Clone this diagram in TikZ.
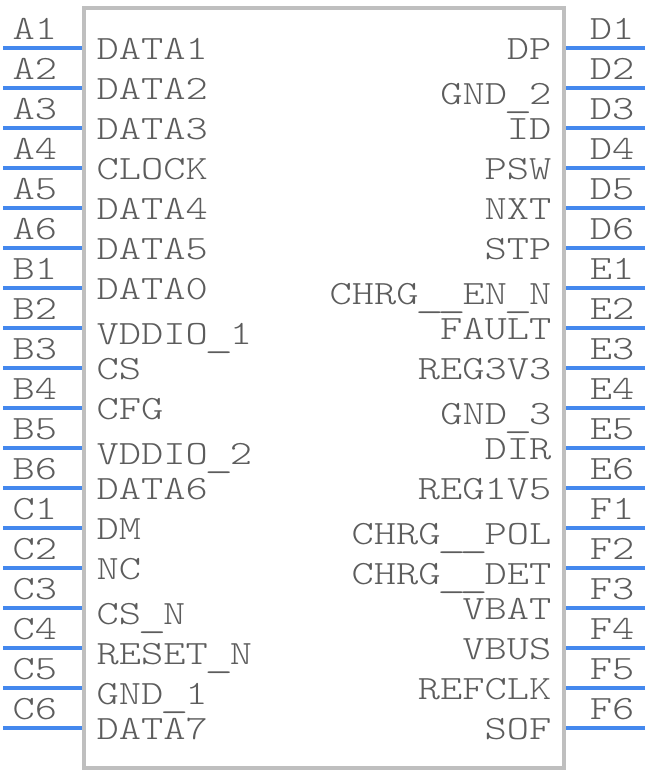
\documentclass[tikz,border=0pt]{standalone}
\usepackage{fontspec}
\setmonofont[FakeStretch=1.245]{Latin Modern Mono Light}
\usepackage{tikz}
\usetikzlibrary{positioning}
\definecolor{leadblue}{HTML}{4488EE}
\definecolor{bodygray}{HTML}{BFBFBF}
\definecolor{textgray}{HTML}{5C5C5C}
\newcommand{\pinfont}{\ttfamily\fontsize{24.2}{24.2}\selectfont}
\newcommand{\usc}{\raisebox{-0.07cm}{\makebox[0.55cm][c]{\scalebox{1.3}[1]{\_}}}}
\tikzset{body/.style={draw=bodygray,line width=0.1cm,minimum width=11.99cm,minimum height=19cm,inner sep=0pt}}
\tikzset{lead/.style={draw=leadblue,line width=0.1cm}}
\tikzset{pinno/.style={font=\pinfont,text=textgray,anchor=base,yshift=0.2cm,inner sep=0pt}}
\tikzset{sigl/.style={font=\pinfont,text=textgray,anchor=base west,inner sep=0pt}}
\tikzset{sigr/.style={font=\pinfont,text=textgray,anchor=base east,inner sep=0pt}}

\begin{document}
\begin{tikzpicture}
  \useasboundingbox (0,0) rectangle (16.2,19.3);
  \node[body] (U1) at (8.106,9.6) {};
  % left pins
  \coordinate (A1o) at (0.08,18.1); \coordinate (A1i) at (2.05,18.1);
  \coordinate (A2o) at (0.08,17.1); \coordinate (A2i) at (2.05,17.1);
  \coordinate (A3o) at (0.08,16.1); \coordinate (A3i) at (2.05,16.1);
  \coordinate (A4o) at (0.08,15.1); \coordinate (A4i) at (2.05,15.1);
  \coordinate (A5o) at (0.08,14.1); \coordinate (A5i) at (2.05,14.1);
  \coordinate (A6o) at (0.08,13.1); \coordinate (A6i) at (2.05,13.1);
  \coordinate (B1o) at (0.08,12.1); \coordinate (B1i) at (2.05,12.1);
  \coordinate (B2o) at (0.08,11.1); \coordinate (B2i) at (2.05,11.1);
  \coordinate (B3o) at (0.08,10.1); \coordinate (B3i) at (2.05,10.1);
  \coordinate (B4o) at (0.08,9.1);  \coordinate (B4i) at (2.05,9.1);
  \coordinate (B5o) at (0.08,8.1);  \coordinate (B5i) at (2.05,8.1);
  \coordinate (B6o) at (0.08,7.1);  \coordinate (B6i) at (2.05,7.1);
  \coordinate (C1o) at (0.08,6.1);  \coordinate (C1i) at (2.05,6.1);
  \coordinate (C2o) at (0.08,5.1);  \coordinate (C2i) at (2.05,5.1);
  \coordinate (C3o) at (0.08,4.1);  \coordinate (C3i) at (2.05,4.1);
  \coordinate (C4o) at (0.08,3.1);  \coordinate (C4i) at (2.05,3.1);
  \coordinate (C5o) at (0.08,2.1);  \coordinate (C5i) at (2.05,2.1);
  \coordinate (C6o) at (0.08,1.1);  \coordinate (C6i) at (2.05,1.1);
  \draw[lead] (A1o) -- node[pinno,pos=0.403] (nA1) {A1} (A1i);
  \draw[lead] (A2o) -- node[pinno,pos=0.403] (nA2) {A2} (A2i);
  \draw[lead] (A3o) -- node[pinno,pos=0.403] (nA3) {A3} (A3i);
  \draw[lead] (A4o) -- node[pinno,pos=0.403] (nA4) {A4} (A4i);
  \draw[lead] (A5o) -- node[pinno,pos=0.403] (nA5) {A5} (A5i);
  \draw[lead] (A6o) -- node[pinno,pos=0.403] (nA6) {A6} (A6i);
  \draw[lead] (B1o) -- node[pinno,pos=0.403] (nB1) {B1} (B1i);
  \draw[lead] (B2o) -- node[pinno,pos=0.403] (nB2) {B2} (B2i);
  \draw[lead] (B3o) -- node[pinno,pos=0.403] (nB3) {B3} (B3i);
  \draw[lead] (B4o) -- node[pinno,pos=0.403] (nB4) {B4} (B4i);
  \draw[lead] (B5o) -- node[pinno,pos=0.403] (nB5) {B5} (B5i);
  \draw[lead] (B6o) -- node[pinno,pos=0.403] (nB6) {B6} (B6i);
  \draw[lead] (C1o) -- node[pinno,pos=0.403] (nC1) {C1} (C1i);
  \draw[lead] (C2o) -- node[pinno,pos=0.403] (nC2) {C2} (C2i);
  \draw[lead] (C3o) -- node[pinno,pos=0.403] (nC3) {C3} (C3i);
  \draw[lead] (C4o) -- node[pinno,pos=0.403] (nC4) {C4} (C4i);
  \draw[lead] (C5o) -- node[pinno,pos=0.403] (nC5) {C5} (C5i);
  \draw[lead] (C6o) -- node[pinno,pos=0.403] (nC6) {C6} (C6i);
  % right pins
  \coordinate (D1o) at (16.125,18.1); \coordinate (D1i) at (14.15,18.1);
  \coordinate (D2o) at (16.125,17.1); \coordinate (D2i) at (14.15,17.1);
  \coordinate (D3o) at (16.125,16.1); \coordinate (D3i) at (14.15,16.1);
  \coordinate (D4o) at (16.125,15.1); \coordinate (D4i) at (14.15,15.1);
  \coordinate (D5o) at (16.125,14.1); \coordinate (D5i) at (14.15,14.1);
  \coordinate (D6o) at (16.125,13.1); \coordinate (D6i) at (14.15,13.1);
  \coordinate (E1o) at (16.125,12.1); \coordinate (E1i) at (14.15,12.1);
  \coordinate (E2o) at (16.125,11.1); \coordinate (E2i) at (14.15,11.1);
  \coordinate (E3o) at (16.125,10.1); \coordinate (E3i) at (14.15,10.1);
  \coordinate (E4o) at (16.125,9.1);  \coordinate (E4i) at (14.15,9.1);
  \coordinate (E5o) at (16.125,8.1);  \coordinate (E5i) at (14.15,8.1);
  \coordinate (E6o) at (16.125,7.1);  \coordinate (E6i) at (14.15,7.1);
  \coordinate (F1o) at (16.125,6.1);  \coordinate (F1i) at (14.15,6.1);
  \coordinate (F2o) at (16.125,5.1);  \coordinate (F2i) at (14.15,5.1);
  \coordinate (F3o) at (16.125,4.1);  \coordinate (F3i) at (14.15,4.1);
  \coordinate (F4o) at (16.125,3.1);  \coordinate (F4i) at (14.15,3.1);
  \coordinate (F5o) at (16.125,2.1);  \coordinate (F5i) at (14.15,2.1);
  \coordinate (F6o) at (16.125,1.1);  \coordinate (F6i) at (14.15,1.1);
  \draw[lead] (D1o) -- node[pinno,pos=0.415] (nD1) {D1} (D1i);
  \draw[lead] (D2o) -- node[pinno,pos=0.415] (nD2) {D2} (D2i);
  \draw[lead] (D3o) -- node[pinno,pos=0.415] (nD3) {D3} (D3i);
  \draw[lead] (D4o) -- node[pinno,pos=0.415] (nD4) {D4} (D4i);
  \draw[lead] (D5o) -- node[pinno,pos=0.415] (nD5) {D5} (D5i);
  \draw[lead] (D6o) -- node[pinno,pos=0.415] (nD6) {D6} (D6i);
  \draw[lead] (E1o) -- node[pinno,pos=0.415] (nE1) {E1} (E1i);
  \draw[lead] (E2o) -- node[pinno,pos=0.415] (nE2) {E2} (E2i);
  \draw[lead] (E3o) -- node[pinno,pos=0.415] (nE3) {E3} (E3i);
  \draw[lead] (E4o) -- node[pinno,pos=0.415] (nE4) {E4} (E4i);
  \draw[lead] (E5o) -- node[pinno,pos=0.415] (nE5) {E5} (E5i);
  \draw[lead] (E6o) -- node[pinno,pos=0.415] (nE6) {E6} (E6i);
  \draw[lead] (F1o) -- node[pinno,pos=0.415] (nF1) {F1} (F1i);
  \draw[lead] (F2o) -- node[pinno,pos=0.415] (nF2) {F2} (F2i);
  \draw[lead] (F3o) -- node[pinno,pos=0.415] (nF3) {F3} (F3i);
  \draw[lead] (F4o) -- node[pinno,pos=0.415] (nF4) {F4} (F4i);
  \draw[lead] (F5o) -- node[pinno,pos=0.415] (nF5) {F5} (F5i);
  \draw[lead] (F6o) -- node[pinno,pos=0.415] (nF6) {F6} (F6i);
  % signals, left side
  \node[sigl] (data1) at (2.41,17.8) {DATA1};
  \node[sigl] (data2) at (2.41,16.8) {DATA2};
  \node[sigl] (data3) at (2.41,15.8) {DATA3};
  \node[sigl] (clock) at (2.41,14.8) {CLOCK};
  \node[sigl] (data4) at (2.41,13.8) {DATA4};
  \node[sigl] (data5) at (2.41,12.8) {DATA5};
  \node[sigl] (data0) at (2.41,11.8) {DATA0};
  \node[sigl] (vddio1) at (2.41,10.675) {VDDIO\usc 1};
  \node[sigl] (cs) at (2.41,9.8) {CS};
  \node[sigl] (cfg) at (2.41,8.8) {CFG};
  \node[sigl] (vddio2) at (2.41,7.675) {VDDIO\usc 2};
  \node[sigl] (data6) at (2.41,6.8) {DATA6};
  \node[sigl] (dm) at (2.41,5.8) {DM};
  \node[sigl] (nc) at (2.41,4.8) {NC};
  \node[sigl] (csn) at (2.41,3.675) {CS\usc N};
  \node[sigl] (resetn) at (2.41,2.675) {RESET\usc N};
  \node[sigl] (gnd1) at (2.41,1.675) {GND\usc 1};
  \node[sigl] (data7) at (2.41,0.8) {DATA7};
  % signals, right side
  \node[sigr] (dp) at (13.79,17.8) {DP};
  \node[sigr] (gnd2) at (13.79,16.675) {GND\usc 2};
  \node[sigr] (id) at (13.79,15.8) {ID};
  \node[sigr] (psw) at (13.79,14.8) {PSW};
  \node[sigr] (nxt) at (13.79,13.8) {NXT};
  \node[sigr] (stp) at (13.79,12.8) {STP};
  \node[sigr] (chrgen) at (13.79,11.675) {CHRG\usc\usc EN\usc N};
  \node[sigr] (fault) at (13.79,10.8) {FAULT};
  \node[sigr] (reg3v3) at (13.79,9.8) {REG3V3};
  \node[sigr] (gnd3) at (13.79,8.675) {GND\usc 3};
  \node[sigr] (dir) at (13.79,7.8) {DIR};
  \node[sigr] (reg1v5) at (13.79,6.8) {REG1V5};
  \node[sigr] (chrgpol) at (13.79,5.675) {CHRG\usc\usc POL};
  \node[sigr] (chrgdet) at (13.79,4.675) {CHRG\usc\usc DET};
  \node[sigr] (vbat) at (13.79,3.8) {VBAT};
  \node[sigr] (vbus) at (13.79,2.8) {VBUS};
  \node[sigr] (refclk) at (13.79,1.8) {REFCLK};
  \node[sigr] (sof) at (13.79,0.8) {SOF};
\end{tikzpicture}
\end{document}
